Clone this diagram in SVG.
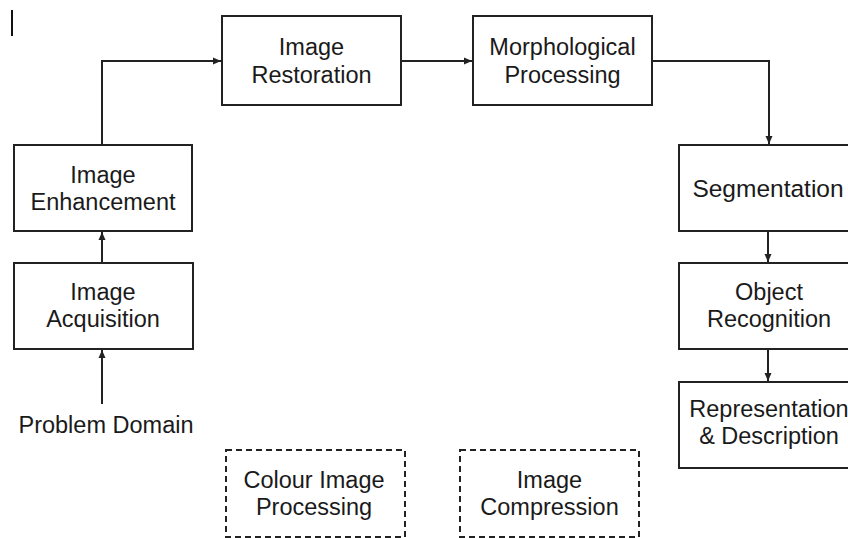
<svg xmlns="http://www.w3.org/2000/svg" width="848" height="538" viewBox="0 0 848 538">
<style>
.box{fill:#fff;stroke:#222;stroke-width:2}
.dash{fill:#fff;stroke:#222;stroke-width:2;stroke-dasharray:6 4}
.t{font-family:"Liberation Sans",Arial,sans-serif;font-size:23.5px;fill:#1a1a1a;text-anchor:middle}
.c{fill:none;stroke:#222;stroke-width:2}
</style>
<defs>
<marker id="ah" markerUnits="userSpaceOnUse" markerWidth="9" markerHeight="8" refX="8" refY="4" orient="auto">
<path d="M0,0.5 L8,4 L0,7.5 z" fill="#222"/>
</marker>
</defs>
<rect width="848" height="538" fill="#fff"/>
<line x1="12" y1="10" x2="12" y2="36" stroke="#111" stroke-width="2"/>
<g id="connectors">
<path class="c" d="M102,145 V61 H221" marker-end="url(#ah)"/>
<path class="c" d="M401,61 H472" marker-end="url(#ah)"/>
<path class="c" d="M652,61 H769 V144" marker-end="url(#ah)"/>
<path class="c" d="M768,231 V262" marker-end="url(#ah)"/>
<path class="c" d="M768,349 V381" marker-end="url(#ah)"/>
<path class="c" d="M102,263 V232" marker-end="url(#ah)"/>
<path class="c" d="M102,404 V350" marker-end="url(#ah)"/>
</g>
<g id="image-acquisition">
<rect class="box" x="14" y="263" width="179" height="86"/>
<text class="t" x="103" y="300">Image</text>
<text class="t" x="103" y="327">Acquisition</text>
</g>
<g id="image-enhancement">
<rect class="box" x="14" y="145" width="178" height="86"/>
<text class="t" x="103" y="183">Image</text>
<text class="t" x="103" y="210">Enhancement</text>
</g>
<g id="image-restoration">
<rect class="box" x="222" y="16" width="179" height="89"/>
<text class="t" x="311.5" y="55">Image</text>
<text class="t" x="311.5" y="83">Restoration</text>
</g>
<g id="morphological-processing">
<rect class="box" x="473" y="16" width="179" height="89"/>
<text class="t" x="562.5" y="55">Morphological</text>
<text class="t" x="562.5" y="83">Processing</text>
</g>
<g id="segmentation">
<rect class="box" x="679" y="145" width="180" height="86"/>
<text class="t" x="768" y="197" style="font-size:24.5px">Segmentation</text>
</g>
<g id="object-recognition">
<rect class="box" x="679" y="263" width="180" height="86"/>
<text class="t" x="769" y="300">Object</text>
<text class="t" x="769" y="327">Recognition</text>
</g>
<g id="representation-description">
<rect class="box" x="679" y="382" width="180" height="86"/>
<text class="t" x="769" y="417">Representation</text>
<text class="t" x="769" y="444">&amp; Description</text>
</g>
<g id="problem-domain">
<text class="t" x="106" y="433">Problem Domain</text>
</g>
<g id="colour-image-processing">
<rect class="dash" x="226" y="450" width="179" height="87"/>
<text class="t" x="314" y="488">Colour Image</text>
<text class="t" x="314" y="515">Processing</text>
</g>
<g id="image-compression">
<rect class="dash" x="460" y="450" width="179" height="87"/>
<text class="t" x="549.5" y="488">Image</text>
<text class="t" x="549.5" y="515">Compression</text>
</g>
</svg>
